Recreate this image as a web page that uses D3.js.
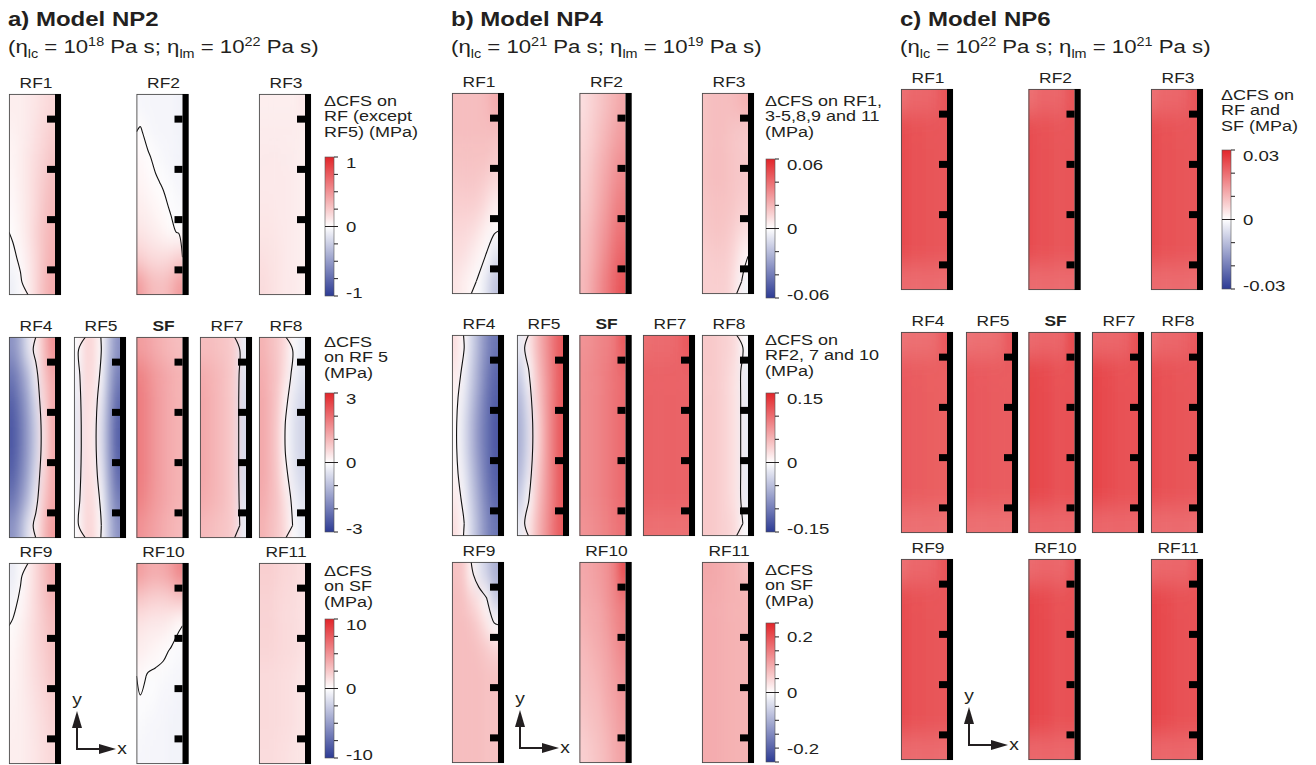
<!DOCTYPE html>
<html>
<head>
<meta charset="utf-8">
<script src="https://cdn.jsdelivr.net/npm/d3@7"></script>
<style>
  body { margin: 0; background: #fff; }
  text { font-family: "Liberation Sans", Arial, sans-serif; fill: #231f20; }
</style>
</head>
<body>
<svg id="chart" width="1316" height="765"></svg>
<script>
// fault order used by every model grid below
const faultNames = ['RF1', 'RF2', 'RF3', 'RF4', 'RF5', 'SF', 'RF7', 'RF8', 'RF9', 'RF10', 'RF11']
const faultRow = [0, 0, 0, 1, 1, 1, 1, 1, 2, 2, 2]
const faultSlot = [0, 2, 4, 0, 1, 2, 3, 4, 0, 2, 4]

const modelTitles = ['a) Model NP2', 'b) Model NP4', 'c) Model NP6']
const etaLc = ['18', '21', '22']
const etaLm = ['22', '19', '21']

// dCFS grids, 8 rows (top -> bottom) x 6 cols (left -> right),
// in percent of the limit of the colour bar that fault is read against
const np2Fields = [
  ['8 8 10 12 15 18', '6 8 10 14 18 22', '5 8 12 16 20 26', '4 8 12 18 24 30', '3 7 12 18 26 32', '2 6 12 20 28 34', '-3 3 10 18 28 36', '-8 -2 8 18 30 38'],
  ['-4 -5 -5 -5 -5 -6', '1 -3 -5 -5 -5 -6', '3 1 -2 -4 -5 -6', '5 3 1 -1 -3 -5', '8 6 4 2 -1 -3', '12 10 8 5 2 -1', '22 18 16 16 18 22', '45 35 30 30 35 45'],
  ['8 8 8 8 8 10', '9 9 9 9 9 8', '10 10 10 9 9 8', '10 10 10 10 9 8', '11 11 10 10 9 8', '12 12 11 10 9 8', '14 13 12 10 9 8', '16 14 12 10 10 8'],
  ['-55 -40 -15 8 30 50', '-70 -55 -35 -8 25 40', '-80 -65 -45 -18 18 38', '-85 -70 -50 -25 12 38', '-85 -70 -50 -25 12 38', '-80 -65 -45 -18 18 38', '-70 -55 -35 -8 25 40', '-55 -40 -15 8 30 45'],
  ['-2 18 18 2 -30 -55', '-6 17 16 -3 -38 -65', '-10 16 12 -10 -45 -75', '-12 15 10 -15 -50 -80', '-12 15 10 -15 -50 -80', '-10 16 12 -10 -45 -75', '-6 17 16 -3 -38 -65', '-2 18 18 2 -30 -55'],
  ['45 42 38 35 32 30', '58 52 46 42 38 35', '60 54 47 42 38 35', '60 54 47 42 38 35', '60 54 47 42 38 35', '60 54 47 42 38 35', '58 52 46 42 38 35', '50 46 42 38 35 32'],
  ['30 30 28 26 22 -10', '38 35 32 28 22 -15', '40 36 32 28 22 -18', '40 36 32 28 22 -18', '40 36 32 28 22 -18', '40 36 32 28 22 -18', '38 35 32 28 22 -15', '32 30 28 26 22 -10'],
  ['35 30 25 15 -2 -10', '38 32 26 12 -6 -15', '40 33 24 4 -12 -20', '40 33 22 -2 -15 -22', '40 33 22 -2 -15 -22', '40 33 24 4 -12 -20', '38 32 26 12 -6 -15', '35 30 25 15 -2 -10'],
  ['-10 -2 8 18 28 38', '-5 3 10 18 26 34', '2 6 12 18 24 30', '4 8 12 18 22 28', '5 8 12 16 20 26', '6 8 11 14 18 22', '7 8 10 13 16 20', '8 8 10 12 15 18'],
  ['45 40 38 40 45 55', '25 22 20 20 22 25', '12 10 10 9 6 1', '8 6 4 2 -1 -3', '3 -1 -2 -3 -4 -5', '-1 -2 -3 -5 -5 -6', '-3 -4 -5 -5 -6 -6', '-4 -5 -5 -5 -6 -6'],
  ['22 22 20 18 18 15', '20 20 18 17 16 14', '20 20 18 17 16 14', '19 19 18 17 16 14', '17 17 16 15 14 12', '17 17 16 15 14 12', '17 17 16 15 14 12', '16 16 15 14 13 12']
]

const np4Fields = [
  ['30 30 30 30 32 38', '30 30 30 30 30 30', '28 28 28 28 28 25', '25 26 26 25 22 18', '22 22 22 20 15 8', '18 18 16 12 6 2', '15 14 10 5 -1 -15', '12 8 4 -2 -15 -30'],
  ['15 20 25 30 35 40', '18 22 28 34 40 45', '20 25 32 38 45 50', '22 28 35 42 50 55', '25 30 38 46 55 60', '28 34 42 50 60 65', '30 36 45 55 65 72', '32 40 50 60 70 78'],
  ['28 30 30 30 32 35', '28 30 30 28 26 25', '28 30 30 28 26 25', '28 30 30 28 26 25', '26 28 28 27 25 22', '25 27 27 25 20 15', '22 24 24 22 15 5', '22 22 22 20 10 -5'],
  ['15 2 -20 -40 -60 -70', '10 -5 -25 -45 -65 -78', '4 -10 -30 -50 -70 -82', '2 -15 -35 -55 -72 -85', '2 -15 -35 -55 -72 -85', '4 -10 -30 -50 -70 -82', '10 -5 -25 -45 -65 -78', '15 2 -20 -40 -60 -70'],
  ['-10 10 30 45 60 75', '-25 -2 25 42 58 75', '-35 -12 20 40 58 75', '-40 -18 15 38 58 75', '-40 -18 15 38 58 75', '-35 -12 20 40 58 75', '-25 -2 25 42 58 75', '-10 10 30 45 60 75'],
  ['50 52 55 58 62 75', '52 54 56 60 64 68', '52 54 56 60 64 68', '52 54 56 60 64 68', '52 54 56 60 64 68', '52 54 56 60 64 68', '52 54 56 60 64 68', '50 52 54 58 62 65'],
  ['66 68 68 68 70 76', '72 72 72 72 72 72', '72 72 72 72 72 72', '72 72 72 72 72 72', '72 72 72 72 72 72', '72 72 72 72 72 72', '72 72 72 72 72 72', '66 66 66 66 66 66'],
  ['25 25 22 20 15 -3', '25 25 22 18 12 -10', '25 25 22 18 12 -10', '25 25 22 18 12 -10', '25 25 22 18 12 -10', '25 25 22 18 12 -10', '25 25 22 18 12 -10', '25 25 22 20 15 -3'],
  ['28 25 5 -12 -25 -40', '30 28 20 12 2 -25', '30 30 28 22 12 2', '30 30 30 28 25 20', '30 30 30 30 28 28', '30 30 30 30 28 28', '30 30 30 30 28 28', '30 30 30 30 28 28'],
  ['40 42 45 50 58 80', '38 40 42 48 55 62', '35 38 40 45 52 58', '32 35 38 42 48 55', '30 32 35 40 45 50', '28 30 32 38 42 48', '25 28 30 35 40 45', '22 25 28 32 38 42'],
  ['40 40 38 36 35 30', '38 38 37 36 35 35', '38 38 37 36 35 35', '38 38 37 36 35 35', '38 38 37 36 35 35', '38 38 37 36 35 35', '38 38 37 36 35 35', '38 38 37 36 35 35']
]

const np6Fields = [
  ['66 70 70 70 72 78', '82 80 80 78 78 78', '82 80 80 78 78 78', '82 80 80 78 78 78', '82 80 80 78 78 78', '82 80 80 78 78 78', '82 80 80 78 78 78', '68 68 68 68 68 68'],
  ['66 70 70 70 72 78', '82 80 80 78 78 78', '82 80 80 78 78 78', '82 80 80 78 78 78', '82 80 80 78 78 78', '82 80 80 78 78 78', '82 80 80 78 78 78', '68 68 68 68 68 68'],
  ['66 70 70 70 72 78', '82 80 80 78 78 78', '82 80 80 78 78 78', '82 80 80 78 78 78', '82 80 80 78 78 78', '82 80 80 78 78 78', '82 80 80 78 78 78', '68 68 68 68 68 68'],
  ['64 66 66 66 68 76', '76 75 75 74 74 74', '76 75 75 74 74 74', '76 75 75 74 74 74', '76 75 75 74 74 74', '76 75 75 74 74 74', '76 75 75 74 74 74', '66 66 66 66 66 66'],
  ['64 66 66 66 68 76', '77 76 76 75 75 75', '77 76 76 75 75 75', '77 76 76 75 75 75', '77 76 76 75 75 75', '77 76 76 75 75 75', '77 76 76 75 75 75', '66 66 66 66 66 66'],
  ['68 70 70 70 72 82', '85 83 82 80 80 80', '85 83 82 80 80 80', '85 83 82 80 80 80', '85 83 82 80 80 80', '85 83 82 80 80 80', '85 83 82 80 80 80', '70 70 70 70 70 70'],
  ['68 70 70 70 72 80', '86 83 82 80 80 80', '86 83 82 80 80 80', '86 83 82 80 80 80', '86 83 82 80 80 80', '86 83 82 80 80 80', '86 83 82 80 80 80', '70 70 70 70 70 70'],
  ['66 70 70 70 72 76', '82 80 80 78 78 78', '82 80 80 78 78 78', '82 80 80 78 78 78', '82 80 80 78 78 78', '82 80 80 78 78 78', '82 80 80 78 78 78', '68 68 68 68 68 68'],
  ['66 70 70 70 72 78', '82 80 80 78 78 78', '82 80 80 78 78 78', '82 80 80 78 78 78', '82 80 80 78 78 78', '82 80 80 78 78 78', '82 80 80 78 78 78', '68 68 68 68 68 68'],
  ['68 70 70 70 70 76', '86 83 82 80 80 80', '86 83 82 80 80 80', '86 83 82 80 80 80', '86 83 82 80 80 80', '86 83 82 80 80 80', '86 83 82 80 80 80', '70 70 70 70 70 70'],
  ['68 70 70 70 70 76', '86 83 82 80 80 80', '86 83 82 80 80 80', '86 83 82 80 80 80', '86 83 82 80 80 80', '86 83 82 80 80 80', '86 83 82 80 80 80', '70 70 70 70 70 70']
]

// colour bars of each model
const legendTitles = [
  [['ΔCFS on', 'RF (except', 'RF5) (MPa)'], ['ΔCFS', 'on RF 5', '(MPa)'], ['ΔCFS', 'on SF', '(MPa)']],
  [['ΔCFS on RF1,', '3-5,8,9 and 11', '(MPa)'], ['ΔCFS on', 'RF2, 7 and 10', '(MPa)'], ['ΔCFS', 'on SF', '(MPa)']],
  [['ΔCFS on', 'RF and', 'SF (MPa)']]
]
const legendLimits = [[1, 3, 10], [0.06, 0.15, 0.25], [0.03]]
const legendSteps = [[0.25, 1, 2.5], [0.02, 0.05, 0.05], [0.01]]
const legendLabels = [[[1, 0, -1], [3, 0, -3], [10, 0, -10]], [[0.06, 0, -0.06], [0.15, 0, -0.15], [0.2, 0, -0.2]], [[0.03, 0, -0.03]]]

const allFields = [np2Fields, np4Fields, np6Fields]

// ---- layout ----
const panelX = [9, 452, 901]
const rowTop = [[94, 337, 563], [93, 335, 562], [89, 332, 559]]
const slotX = [0, 65, 127.5, 191, 250]
const boxW = 52, barW = 6, boxH = 201, fieldW = boxW - barW
const notchFractions = [0.125, 0.375, 0.625, 0.875]
const legendX = [325, 766, 1222]
const legendTitleY = [[106, 347, 576], [106, 345, 575], [100]]
const legendBarY = [[157, 393, 619], [159, 393, 623], [150]]
const legendBarW = 9, legendBarH = 139
const SX = 1.2   // the original type is set wide
const ink = '#231f20'

const colour = d3.scaleLinear().domain([-1, 0, 1]).range(['#2d3b94', '#ffffff', '#e2252a']).interpolate(d3.interpolateRgb)

const svg = d3.select('#chart')
const defs = svg.append('defs')

defs.append('filter').attr('id', 'smooth')
    .attr('x', '-10%').attr('y', '-10%').attr('width', '120%').attr('height', '120%')
  .append('feGaussianBlur').attr('stdDeviation', '3.6 11')

defs.append('clipPath').attr('id', 'fieldClip')
  .append('rect').attr('width', fieldW).attr('height', boxH)

function stext(parent, x, y, txt) {
  return parent.append('text')
    .attr('transform', `translate(${x},${y}) scale(${SX},1)`)
    .text(txt)
}

function parseGrid(rows) {
  return rows.map(r => r.trim().split(/\s+/).map(Number))
}

// zero contour of a grid, without the pieces that run along the fault border
function zeroLine(grid, xs, ys) {
  let nr = grid.length, nc = grid[0].length
  let geom = d3.contours().size([nc, nr]).thresholds([0])(grid.flat())[0]
  let onBorder = p => p[0] === 0 || p[0] === nc || p[1] === 0 || p[1] === nr
  let runs = []
  geom.coordinates.forEach(poly => poly.forEach(ring => {
    let run = null
    for (let i = 1; i < ring.length; i++) {
      let a = ring[i - 1], b = ring[i]
      if (onBorder(a) && onBorder(b)) { run = null; continue }
      if (!run) { run = [a]; runs.push(run) }
      run.push(b)
    }
  }))
  let line = d3.line().x(p => xs(p[0])).y(p => ys(p[1])).curve(d3.curveCatmullRom)
  return runs.map(r => line(r))
}

function drawFault(parent, grid, x0, y0, name) {
  let nr = grid.length, nc = grid[0].length
  let xs = d3.scaleLinear().domain([0, nc]).range([0, fieldW])
  let ys = d3.scaleLinear().domain([0, nr]).range([0, boxH])
  let g = parent.append('g').attr('transform', `translate(${x0},${y0})`)

  let cells = []
  grid.forEach((row, i) => row.forEach((v, j) => cells.push({ i, j, v })))

  // cells, padded outward at the border, blurred and clipped to the fault
  let padX = 14, padY = 36
  g.append('g').attr('clip-path', 'url(#fieldClip)')
    .append('g').attr('filter', 'url(#smooth)')
    .selectAll('rect').data(cells).join('rect')
    .attr('x', d => xs(d.j) - (d.j === 0 ? padX : 0))
    .attr('y', d => ys(d.i) - (d.i === 0 ? padY : 0))
    .attr('width', d => xs(1) - xs(0) + (d.j === 0 ? padX : 0) + (d.j === nc - 1 ? padX : 0) + 0.5)
    .attr('height', d => ys(1) - ys(0) + (d.i === 0 ? padY : 0) + (d.i === nr - 1 ? padY : 0) + 0.5)
    .attr('fill', d => colour(d.v / 100))

  g.append('g').attr('clip-path', 'url(#fieldClip)')
    .selectAll('path').data(zeroLine(grid, xs, ys)).join('path')
    .attr('d', d => d)
    .attr('fill', 'none')
    .attr('stroke', '#111')
    .attr('stroke-width', 1.1)

  g.append('rect')
    .attr('x', 0.4).attr('y', 0.4)
    .attr('width', boxW - 0.8).attr('height', boxH - 0.8)
    .attr('fill', 'none').attr('stroke', '#4a4a4a').attr('stroke-width', 0.9)

  g.append('rect')
    .attr('x', fieldW).attr('y', 0)
    .attr('width', barW).attr('height', boxH)
    .attr('fill', '#000')

  g.selectAll('.notch').data(notchFractions).join('rect')
    .attr('class', 'notch')
    .attr('x', fieldW - 8).attr('y', f => f * boxH - 3.5)
    .attr('width', 8).attr('height', 7)
    .attr('fill', '#000')

  stext(parent, x0 + boxW / 2 + 1, y0 - 6, name)
    .attr('text-anchor', 'middle')
    .style('font-size', '14.5px')
    .style('font-weight', name === 'SF' ? 'bold' : 'normal')
}

function drawLegend(parent, m, k) {
  let x = legendX[m], top = legendBarY[m][k], lim = legendLimits[m][k]
  legendTitles[m][k].forEach((t, i) => {
    stext(parent, x - 1, legendTitleY[m][k] + i * 15.3, t).style('font-size', '15px')
  })
  let cy = d3.scaleLinear().domain([lim, -lim]).range([top, top + legendBarH])
  let gid = `grad${m}${k}`
  let grad = defs.append('linearGradient').attr('id', gid)
    .attr('x1', 0).attr('y1', 0).attr('x2', 0).attr('y2', 1)
  grad.selectAll('stop').data(d3.range(0, 1.0001, 0.05)).join('stop')
    .attr('offset', t => t)
    .attr('stop-color', t => colour(1 - 2 * t))
  parent.append('rect')
    .attr('x', x).attr('y', top)
    .attr('width', legendBarW).attr('height', legendBarH)
    .attr('fill', `url(#${gid})`)
    .attr('stroke', '#555').attr('stroke-width', 0.6)

  let step = legendSteps[m][k]
  let ticks = d3.range(-lim, lim + step / 2, step)
  parent.selectAll(`.tick${m}${k}`).data(ticks).join('line')
    .attr('class', `tick${m}${k}`)
    .attr('x1', v => Math.abs(v) < 1e-9 ? x : x + legendBarW)
    .attr('x2', x + legendBarW + 4)
    .attr('y1', v => cy(v)).attr('y2', v => cy(v))
    .attr('stroke', ink).attr('stroke-width', 1)

  legendLabels[m][k].forEach(v => {
    let shift = Math.abs(Math.abs(v) - lim) < 1e-9 ? (v > 0 ? 5 : -4) : 0
    stext(parent, x + legendBarW + 12, cy(v) + 5.5 + shift, String(v)).style('font-size', '15.5px')
  })
}

function drawAxes(parent, ox, oy) {
  let g = parent.append('g').attr('transform', `translate(${ox},${oy})`)
  g.append('line').attr('x1', 0).attr('y1', 0).attr('x2', 0).attr('y2', -24)
    .attr('stroke', ink).attr('stroke-width', 2)
  g.append('line').attr('x1', -1).attr('y1', 0).attr('x2', 24).attr('y2', 0)
    .attr('stroke', ink).attr('stroke-width', 2)
  g.append('path').attr('d', 'M0,-38L-5,-21L5,-21Z').attr('fill', ink)
  g.append('path').attr('d', 'M39,0L22,-5L22,5Z').attr('fill', ink)
  stext(g, 0, -44, 'y').attr('text-anchor', 'middle').style('font-size', '16px')
  stext(g, 45, 5, 'x').attr('text-anchor', 'middle').style('font-size', '16px')
}

modelTitles.forEach((title, m) => {
  let panel = svg.append('g')
  let px = panelX[m]

  stext(panel, px - 1, 26, title).style('font-size', '20px').style('font-weight', 'bold')

  let sub = stext(panel, px - 1, 53, '').style('font-size', '18.5px')
  sub.append('tspan').text('(η')
  sub.append('tspan').attr('dy', 5).style('font-size', '12px').text('lc')
  sub.append('tspan').attr('dy', -5).text(' = 10')
  sub.append('tspan').attr('dy', -7).style('font-size', '12px').text(etaLc[m])
  sub.append('tspan').attr('dy', 7).text(' Pa s; η')
  sub.append('tspan').attr('dy', 5).style('font-size', '12px').text('lm')
  sub.append('tspan').attr('dy', -5).text(' = 10')
  sub.append('tspan').attr('dy', -7).style('font-size', '12px').text(etaLm[m])
  sub.append('tspan').attr('dy', 7).text(' Pa s)')

  allFields[m].forEach((rows, f) => {
    drawFault(panel, parseGrid(rows), px + slotX[faultSlot[f]], rowTop[m][faultRow[f]], faultNames[f])
  })

  legendTitles[m].forEach((t, k) => drawLegend(panel, m, k))

  drawAxes(panel, px + 68, rowTop[m][2] + 186)
})
</script>
</body>
</html>
